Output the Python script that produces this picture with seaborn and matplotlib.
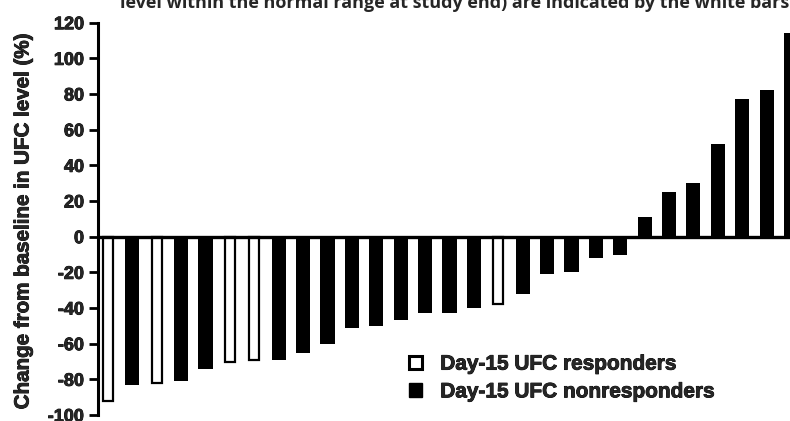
import matplotlib
matplotlib.use("Agg")
import matplotlib.pyplot as plt
import matplotlib.patheffects as pe
import pandas as pd
import seaborn as sns
from matplotlib import font_manager
from matplotlib.patches import Patch

# Per-patient change in UFC level from baseline (%), sorted
patients = [str(i) for i in range(1, 30)]
ufc_change = [-92, -83, -82, -81, -74, -70, -69, -69, -65, -60,
              -51, -50, -47, -43, -43, -40, -38, -32, -21, -20,
              -12, -10, 11, 25, 30, 52, 77, 82, 114]
responder_idx = [0, 2, 5, 6, 16]

group_labels = ["Day-15 UFC responders", "Day-15 UFC nonresponders"]
groups = [group_labels[0] if i in responder_idx else group_labels[1]
          for i in range(len(patients))]
y_ticks = [-100, -80, -60, -40, -20, 0, 20, 40, 60, 80, 100, 120]
y_label = "Change from baseline in UFC level (%)"
caption = "level within the normal range at study end) are indicated by the white bars"

sns.set_style("white")
plt.rcParams["font.family"] = ["Liberation Sans", "DejaVu Sans"]

# Heavy label text: thicken the glyphs with a stroke of the same colour
bold_file = font_manager.findfont(
    font_manager.FontProperties(family="Liberation Sans", weight="bold"))
stroke_w = 0.6 if "Bold" in bold_file else 1.3
heavy = [pe.withStroke(linewidth=stroke_w, foreground="black")]

W, H = 790, 421
fig = plt.figure(figsize=(W / 100, H / 100), dpi=100)
ax = fig.add_axes([98 / W, 1 - 415 / H, 692 / W, (415 - 22.7) / H])

df = pd.DataFrame({"patient": patients, "change": ufc_change, "group": groups})
sns.barplot(data=df, x="patient", y="change", hue="group", hue_order=group_labels,
            palette={group_labels[0]: "white", group_labels[1]: "black"},
            dodge=False, width=0.58, saturation=1, legend=False, ax=ax)

# Responder bars: white with black outline, a little narrower
for p in ax.patches:
    fc = p.get_facecolor()
    if fc[0] > 0.5:
        cx = p.get_x() + p.get_width() / 2
        w = 0.42
        p.set_x(cx - w / 2)
        p.set_width(w)
        p.set_edgecolor("black")
        p.set_linewidth(1.6)
    else:
        p.set_linewidth(0)

ax.axhline(0, color="black", lw=2.4, zorder=5)

ax.set_ylim(-100, 120)
ax.set_xlim(-0.41, 27.96)
ax.set_yticks(y_ticks)
ax.set_yticklabels([str(t) for t in y_ticks], fontsize=13, fontweight="bold")
for lbl in ax.get_yticklabels():
    lbl.set_path_effects(heavy)
ax.set_xticks([])
ax.set_xlabel("")
ax.set_ylabel("")
for s in ["top", "right", "bottom"]:
    ax.spines[s].set_visible(False)
ax.spines["left"].set_linewidth(2.2)
ax.spines["left"].set_color("black")
ax.tick_params(axis="y", which="both", direction="out", length=6.5, width=2,
               color="black", pad=3.5, left=True)

fig.text(23 / W, 1 - 222 / H, y_label, rotation=90, ha="center", va="center",
         fontsize=14.8, fontweight="bold", path_effects=heavy)

fig.text(120 / W, 1 - 8.5 / H, caption, ha="left", va="baseline",
         fontsize=13, fontweight="bold",
         family=["Liberation Sans Narrow", "Open Sans", "DejaVu Sans"])

handles = [Patch(facecolor="white", edgecolor="black", linewidth=2.2),
           Patch(facecolor="black", edgecolor="black")]
leg = fig.legend(handles, group_labels, loc="center left",
                 bbox_to_anchor=(409 / W, 1 - 378 / H), frameon=False,
                 handlelength=0.6, handleheight=0.6, handletextpad=0.9,
                 labelspacing=0.42, borderpad=0, borderaxespad=0,
                 prop={"size": 15, "weight": "bold"})
for t in leg.get_texts():
    t.set_path_effects(heavy)

fig.savefig("out.png", dpi=100, facecolor="white")
